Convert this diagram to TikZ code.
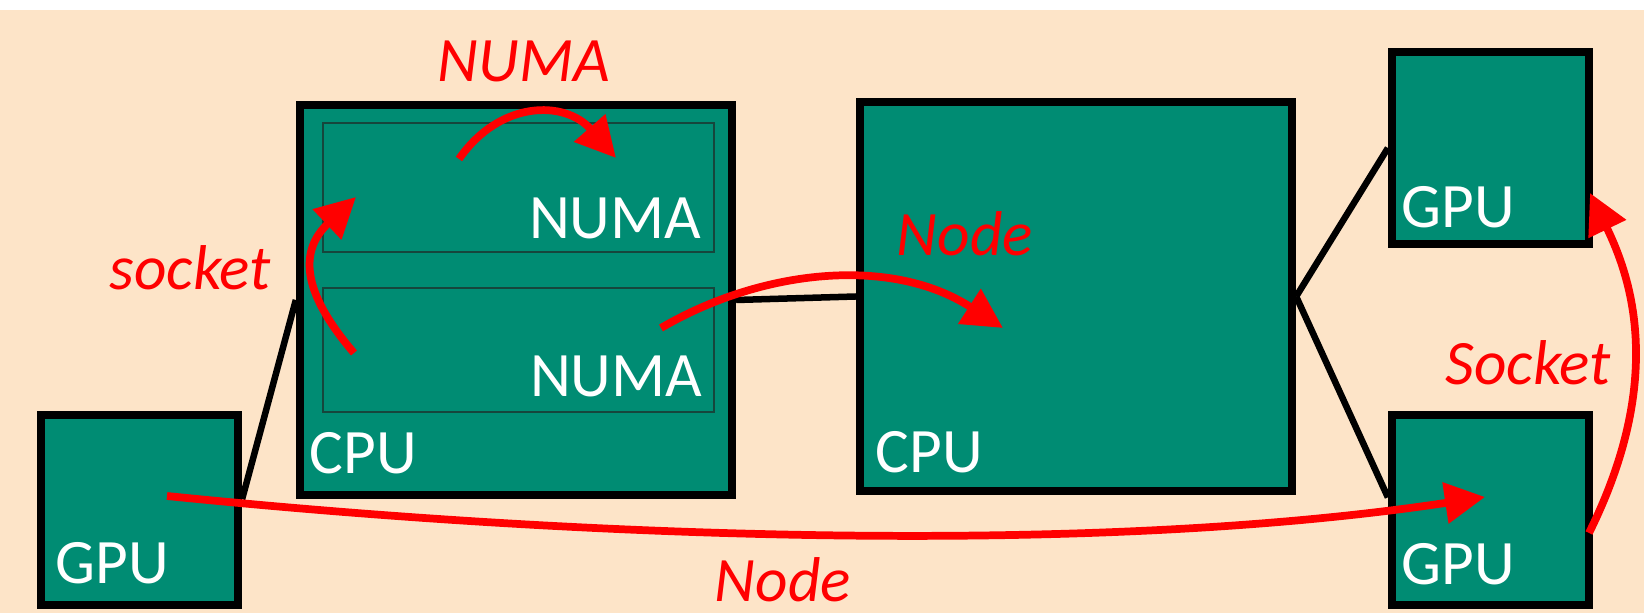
\documentclass[tikz,border=0pt]{standalone}
\usepackage{fontspec}
\setmainfont{Carlito}
\usetikzlibrary{arrows.meta,positioning}

\definecolor{peach}{RGB}{253,228,200}
\definecolor{boxteal}{RGB}{0,140,115}
\definecolor{numaline}{RGB}{22,70,60}

\begin{document}
\begin{tikzpicture} [
        x=0.01cm, y=-0.01cm,
        box/.style={draw=black, fill=boxteal, line width=2.3pt, inner sep=0pt},
        numa/.style={draw=numaline, line width=0.7pt, inner sep=0pt},
        tag/.style={text=white, inner sep=0pt, font=\fontsize{18}{20}\selectfont},
        hop/.style={text=red, inner sep=0pt, font=\fontsize{18}{20}\selectfont\itshape},
        link/.style={draw=black, line width=1.85pt},
        jump/.style={draw=red, line width=2.2pt, -{Triangle[length=0.4cm, width=0.4cm]}}
    ]
    \useasboundingbox (0,0) rectangle (1644,613);
    \fill[white] (0,0) rectangle (1644,613);
    \fill[peach] (0,10) rectangle (1644,613);

    % boxes
    \node[box, minimum width=1.97cm, minimum height=1.90cm] (gpuL) at (139.5,510)  {};
    \node[box, minimum width=4.32cm, minimum height=3.90cm] (cpuA) at (516,300)    {};
    \node[numa, minimum width=3.91cm, minimum height=1.29cm] (numaA) at (518.5,187.5) {};
    \node[numa, minimum width=3.91cm, minimum height=1.24cm] (numaB) at (518.5,350)   {};
    \node[box, minimum width=4.32cm, minimum height=3.89cm] (cpuB) at (1076,296.5) {};
    \node[box, minimum width=1.97cm, minimum height=1.92cm] (gpuT) at (1490.5,148) {};
    \node[box, minimum width=1.97cm, minimum height=1.90cm] (gpuB) at (1490.5,510) {};

    % box labels
    \node[tag, anchor=base west] (gpuLtxt)  at (55,584)   {GPU};
    \node[tag, anchor=base west] (cpuAtxt)  at (309,474)  {CPU};
    \node[tag, anchor=base east] (numaAtxt) at (702,239)  {NUMA};
    \node[tag, anchor=base east] (numaBtxt) at (703,397)  {NUMA};
    \node[tag, anchor=base west] (cpuBtxt)  at (875,473)  {CPU};
    \node[tag, anchor=base west] (gpuTtxt)  at (1401,228) {GPU};
    \node[tag, anchor=base west] (gpuBtxt)  at (1401,585) {GPU};

    % wires
    \path
    (gpuL.6)    edge [link] (cpuA.west)
    (cpuA.east) edge [link] (cpuB.west)
    (cpuB.east) edge [link] (gpuT.west)
                edge [link] (gpuB.173);

    % hop ends
    \coordinate (numaFrom) at (459,159);
    \coordinate (numaTo)   at (616,158);
    \coordinate (sockFrom) at (354,353);
    \coordinate (sockTo)   at (356,197);
    \coordinate (nodeFrom) at (661,328);
    \coordinate (nodeTo)   at (1003,328);
    \coordinate (farFrom)  at (167,496);
    \coordinate (farTo)    at (1485,497);
    \coordinate (gsFrom)   at (1589,533);
    \coordinate (gsTo)     at (1590,193);

    \draw[jump] (numaFrom) .. controls (500,100) and (565,100) .. (numaTo);
    \draw[jump] (sockFrom) .. controls (300,290) and (300,250) .. (sockTo);
    \draw[jump] (nodeFrom) .. controls (760,270) and (890,255) .. (nodeTo);
    \draw[jump] (farFrom)  .. controls (600,540) and (1100,555) .. (farTo);
    \draw[jump] (gsFrom)   .. controls (1665,380) and (1632,280) .. (gsTo);

    % hop labels
    \node[hop, anchor=base west] (numaHop)  at (437,82)   {NUMA};
    \node[hop, anchor=base west] (sockHop)  at (109,290)  {socket};
    \node[hop, anchor=base west] (nodeHop)  at (896,256)  {Node};
    \node[hop, anchor=base west] (farHop)   at (714,602)  {Node};
    \node[hop, anchor=base west] (gsHop)    at (1445,385) {Socket};
\end{tikzpicture}
\end{document}
